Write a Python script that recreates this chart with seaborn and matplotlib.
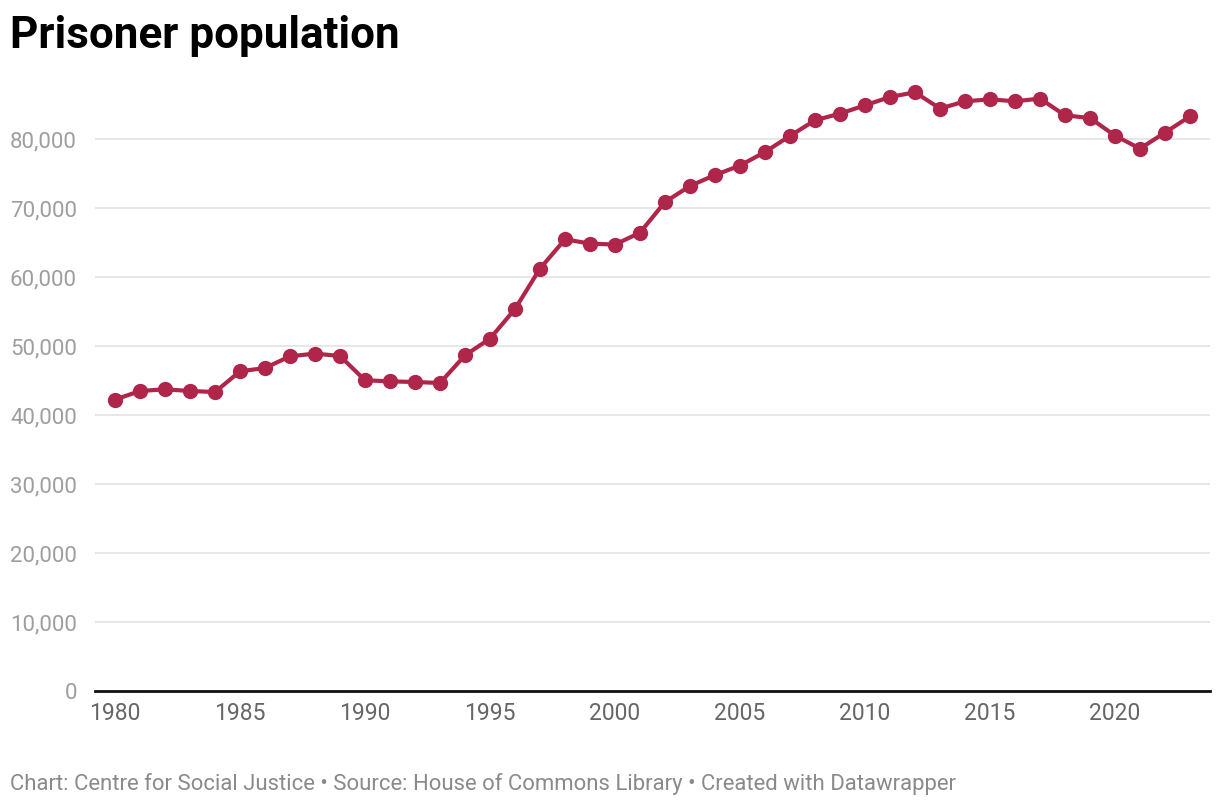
import matplotlib
matplotlib.use("Agg")
import matplotlib.pyplot as plt
import seaborn as sns
import pandas as pd
from matplotlib.ticker import FuncFormatter

years = list(range(1980, 2024))
population = [42230, 43480, 43720, 43480, 43330, 46330, 46810, 48510, 48900, 48550,
              45030, 44880, 44780, 44640, 48650, 51070, 55360, 61220, 65460, 64840,
              64700, 66430, 70870, 73190, 74780, 76150, 78120, 80450, 82710, 83680,
              84880, 86090, 86770, 84410, 85460, 85750, 85460, 85860, 83430, 83040,
              80490, 78610, 80930, 83290]
y_ticks = [0, 10000, 20000, 30000, 40000, 50000, 60000, 70000, 80000]
x_ticks = [1980, 1985, 1990, 1995, 2000, 2005, 2010, 2015, 2020]

title = "Prisoner population"
footer = "Chart: Centre for Social Justice • Source: House of Commons Library • Created with Datawrapper"

df = pd.DataFrame({"year": years, "population": population})

sns.set_theme(style="white")
plt.rcParams['font.family'] = ['Roboto', 'DejaVu Sans']

fig = plt.figure(figsize=(12.2, 8.08), dpi=100)
ax = fig.add_axes([95/1220, (808-691)/808, (1210-95)/1220, (691-70)/808])

color = "#b0254a"
sns.lineplot(data=df, x="year", y="population", ax=ax, color=color, linewidth=3,
             marker="o", markersize=11, markeredgewidth=0, zorder=3)

ax.set_xlim(1979.2, 2023.8)
ax.set_ylim(0, 90000)
ax.set_yticks(y_ticks)
ax.set_xticks(x_ticks)
ax.yaxis.set_major_formatter(FuncFormatter(lambda v, p: f"{int(v):,}"))
ax.grid(axis="y", color="#e3e3e3", linewidth=1.2, zorder=0)
ax.grid(axis="x", visible=False)
for s in ["top", "right", "left"]:
    ax.spines[s].set_visible(False)
ax.spines["bottom"].set_color("#111111")
ax.spines["bottom"].set_linewidth(2)
ax.spines["bottom"].set_zorder(4)
ax.tick_params(axis="y", length=0, pad=13, labelsize=16, labelcolor="#9e9e9e")
ax.tick_params(axis="x", length=0, pad=8, labelsize=16.5, labelcolor="#666666")
ax.set_xlabel("")
ax.set_ylabel("")

fig.text(10/1220, 1 - 36/808, title, fontsize=31.7, fontweight="bold", color="#000000",
         ha="left", va="center")
fig.text(10/1220, 1 - 784/808, footer, fontsize=15.9, color="#8a8a8a",
         ha="left", va="center")

fig.savefig("out.png", dpi=100)
